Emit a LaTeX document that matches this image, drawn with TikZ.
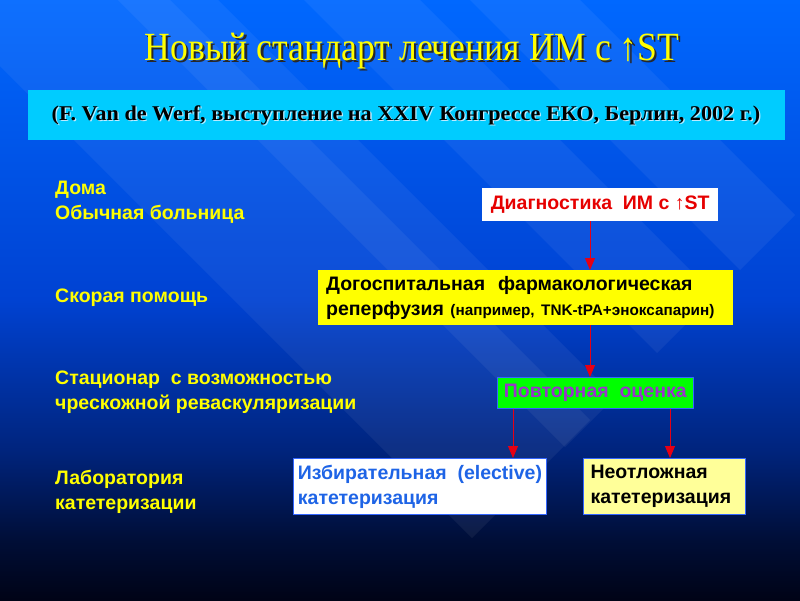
\documentclass[tikz,border=0pt]{standalone}
\usepackage{fontspec}
\setmainfont{Liberation Sans}
\newfontfamily\serifru{Liberation Serif}
\usetikzlibrary{arrows.meta}
\definecolor{bgtop}{RGB}{0,104,255}
\definecolor{bgmid}{RGB}{0,66,210}
\definecolor{bglow}{RGB}{0,36,125}
\definecolor{bglow2}{RGB}{0,14,55}
\definecolor{bgbot}{RGB}{0,3,22}
\definecolor{ttlyel}{RGB}{255,255,0}
\definecolor{subcyan}{RGB}{0,204,255}
\definecolor{diared}{RGB}{230,0,0}
\definecolor{repgreen}{RGB}{0,255,0}
\definecolor{reppurple}{RGB}{153,51,204}
\definecolor{elblue}{RGB}{30,100,230}
\definecolor{lightyel}{RGB}{255,255,153}
\definecolor{boxborder}{RGB}{51,102,255}
\definecolor{arrred}{RGB}{230,0,20}
\definecolor{shdark}{RGB}{40,40,40}
\definecolor{shlight}{RGB}{190,235,255}
\pgfdeclareverticalshading{slidebg}{100bp}{color(0bp)=(bgbot); color(25bp)=(bgbot); color(30bp)=(bglow2); color(37.5bp)=(bglow); color(50bp)=(bgmid); color(75bp)=(bgtop); color(100bp)=(bgtop)}
\newcommand{\shadowtext}[3]{\makebox[0pt][l]{\hspace*{#2}\raisebox{-#2}{\color{#1}#3}}#3}
\begin{document}
\begin{tikzpicture}[x=1pt,y=-1pt,
  lefttxt/.style={anchor=west, inner sep=0pt, align=left, text=ttlyel,
    font=\fontsize{19.5}{24.5}\selectfont\bfseries},
  flowbox/.style={anchor=north west, inner xsep=2pt, inner ysep=0pt,
    font=\fontsize{19.5}{25}\selectfont\bfseries},
  arr/.style={draw=arrred, line width=0.9pt, -{Triangle[width=10pt,length=12pt]}},
  band/.style={fill=white, fill opacity=0.055}
]
\useasboundingbox (0,0) rectangle (800,600);
\shade[shading=slidebg] (0,0) rectangle (800,600);
% diagonal background bands
\begin{scope}
\clip (0,0) rectangle (800,600);
\fill[band] (472,538) -- (590,420) -- (-10,-180) -- (-128,-62) -- cycle;
\fill[band] (565,447) -- (615,397) -- (15,-203) -- (-35,-153) -- cycle;
\fill[band] (657,353) -- (715,295) -- (115,-305) -- (57,-247) -- cycle;
\fill[band] (740,270) -- (795,215) -- (195,-385) -- (140,-330) -- cycle;
\end{scope}

% title
\node[text=ttlyel, xscale=0.89, font=\serifru\fontsize{40}{44}\selectfont] (title) at (412,52) {\shadowtext{shdark}{2.5pt}{Новый стандарт лечения ИМ с ↑ST}};

% subtitle box
\node[fill=subcyan, anchor=north west, minimum width=757pt, minimum height=50pt, inner sep=0pt] (subbox) at (28,90) {};
\node[text=black, xscale=1.055, font=\serifru\fontsize{21}{24}\selectfont\bfseries] (subtitle) at (406,116) {\shadowtext{shlight}{1.2pt}{(F. Van de Werf, выступление на XXIV Конгрессе ЕКО, Берлин, 2002 г.)}};

% left labels
\node[lefttxt] (home) at (55,202) {Дома\\Обычная больница};
\node[lefttxt] (amb) at (55,298) {Скорая помощь};
\node[lefttxt] (stat) at (55,392) {Стационар\ \ с возможностью\\чрескожной реваскуляризации};
\node[lefttxt] (lab) at (55,492) {Лаборатория\\катетеризации};

% flow boxes
\node[flowbox, fill=white, text=diared, minimum width=236pt, minimum height=33pt, align=center] (dia) at (482,188) {Диагностика\ \ ИМ с ↑ST};
\node[flowbox, inner xsep=8pt, text width=399pt, fill=ttlyel, text=black, minimum width=415pt, minimum height=55pt, align=left] (pre) at (318,270) {Догоспитальная\ \ фармакологическая\\реперфузия {\fontsize{15.3}{25}\selectfont (например, TNK-tPA+эноксапарин)}};
\node[flowbox, fill=repgreen, draw=boxborder, line width=0.6pt, text=reppurple, minimum width=196pt, minimum height=31pt, align=center] (rep) at (497,377) {Повторная\ \ оценка};
\node[flowbox, fill=white, draw=boxborder, line width=1pt, text=elblue, minimum width=253pt, minimum height=56pt, align=left] (elec) at (293,458) {Избирательная\ \ (elective)\\катетеризация};
\node[flowbox, inner xsep=7pt, text width=148pt, fill=lightyel, draw=boxborder, line width=1pt, text=black, minimum width=162pt, minimum height=56pt, align=left] (urg) at (583,458) {Неотложная\\катетеризация};

% connectors
\coordinate (xa) at (590,0);
\coordinate (xb) at (513,0);
\coordinate (xc) at (670,0);
\draw[arr] (xa |- dia.south) -- (xa |- pre.north);
\draw[arr] (xa |- pre.south) -- (xa |- rep.north);
\draw[arr] (xb |- rep.south) -- (xb |- elec.north);
\draw[arr] (xc |- rep.south) -- (xc |- urg.north);
\end{tikzpicture}
\end{document}
